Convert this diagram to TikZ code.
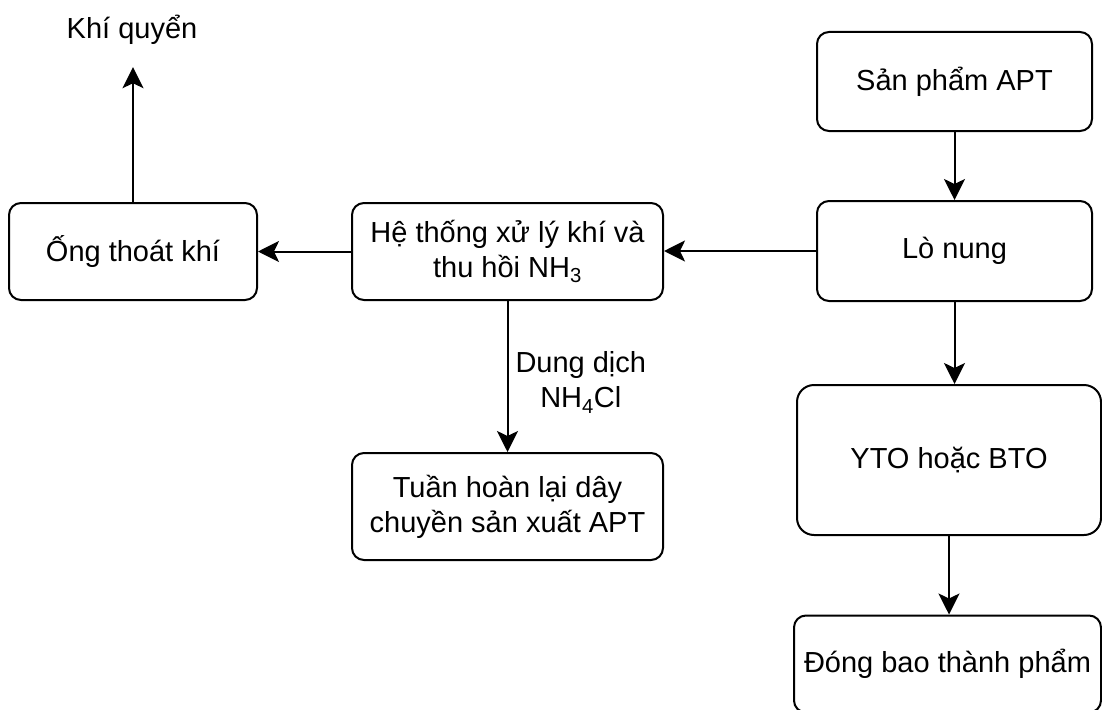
\documentclass[tikz,border=0pt]{standalone}
\usepackage{fontspec}
\setmainfont{Liberation Sans}
\usetikzlibrary{arrows.meta}
\newcommand\flowfont{\fontsize{29}{35}\selectfont}
\begin{document}
\begin{tikzpicture}[x=1pt,y=-1pt,
  box/.style={draw=black, line width=2pt, rounded corners=12pt, align=center,
              inner sep=0pt, font=\flowfont, text=black},
  flow/.style={line width=2pt, -{Stealth[length=21pt,width=21pt,inset=5pt]}},
  lbl/.style={font=\flowfont, align=center, inner sep=0pt, text=black}]
\clip (0,0) rectangle (1102,709);
\fill[white] (0,0) rectangle (1102,709);

% main product line (right column)
\node[box, minimum width=275pt, minimum height=99pt]  (sp)  at (954.5,81.5) {Sản phẩm APT};
\node[box, minimum width=275pt, minimum height=100pt] (lo)  at (954.5,251)  {Lò nung};
\node[box, minimum width=304pt, minimum height=150pt, rounded corners=17pt] (yto) at (949,460) {YTO hoặc BTO};
\node[box, minimum width=307pt, minimum height=97pt]  (db)  at (947.5,664) {Đóng bao thành phẩm};

% gas treatment branch
\node[box, minimum width=311pt, minimum height=97pt]  (ht)  at (507.5,251.5) {Hệ thống xử lý khí và\\thu hồi NH\textsubscript{3}};
\node[box, minimum width=248pt, minimum height=97pt]  (ong) at (133,251.5)   {Ống thoát khí};
\node[box, minimum width=311pt, minimum height=107pt] (th)  at (507.5,506.5) {Tuần hoàn lại dây\\chuyền sản xuất APT};
\node[lbl, anchor=base] (kq) at (132,39) {Khí quyển};

% connectors
\draw[flow] (sp) -- (lo);
\draw[flow] (lo.south) -- (lo.south |- yto.north);
\draw[flow] (yto.south) -- (yto.south |- db.north);
\draw[flow] (lo.west) -- (lo.west -| ht.east);
\draw[flow] (ht.west) -- (ht.west -| ong.east);
\draw[flow] (ht.south) -- (th.north)
  node[lbl, pos=0.54, anchor=west, xshift=7pt] (dd) {Dung dịch\\NH\textsubscript{4}Cl};
\draw[flow, shorten >=22pt] (ong.north) -- (ong.north |- kq.south);
\end{tikzpicture}
\end{document}
